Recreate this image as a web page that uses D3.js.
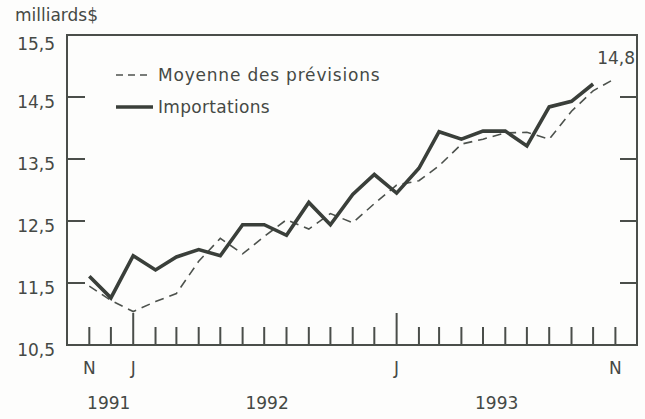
<!DOCTYPE html>
<html>
<head>
<meta charset="utf-8">
<script src="https://cdn.jsdelivr.net/npm/d3@7"></script>
<style>
  body { margin: 0; background: #fdfdfc; }
  text { font-family: "DejaVu Sans", sans-serif; fill: #454945; }
</style>
</head>
<body>
<div id="chart"></div>
<script>
// values, monthly from Nov 1991
const firstMonth = new Date(1991, 10, 1);
const importations = [11.61, 11.26, 11.94, 11.71, 11.92, 12.04, 11.94, 12.44, 12.44, 12.27, 12.8, 12.44,
    12.93, 13.25, 12.95, 13.35, 13.94, 13.82, 13.95, 13.95, 13.71, 14.34, 14.43, 14.71];
const previsions = [11.45, 11.22, 11.04, 11.2, 11.33, 11.85, 12.22, 11.97, 12.25, 12.52, 12.37, 12.62,
    12.47, 12.78, 13.08, 13.15, 13.39, 13.74, 13.82, 13.92, 13.93, 13.82, 14.27, 14.6, 14.8];
const yTicks = [10.5, 11.5, 12.5, 13.5, 14.5, 15.5];
const monthLabels = [[new Date(1991, 10, 1), "N"], [new Date(1992, 0, 1), "J"], [new Date(1993, 0, 1), "J"], [new Date(1993, 10, 1), "N"]];
const yearLabels = [[new Date(1991, 10, 28), "1991"], [new Date(1992, 6, 5), "1992"], [new Date(1993, 4, 20), "1993"]];
const legendNames = ["Moyenne des prévisions", "Importations"];
const endLabel = "14,8";

const width = 645, height = 419;
const margin = {top: 35, right: 8, bottom: 74, left: 67};

const fr = d3.formatLocale({decimal: ",", thousands: " ", grouping: [3], currency: ["", "$"]});
const fmt = fr.format(".1f");

let svg = d3.select("#chart")
    .append("svg")
    .attr("width", width)
    .attr("height", height);

let x = d3.scaleTime()
    .domain([new Date(1991, 9, 1), new Date(1993, 11, 1)])
    .range([margin.left, width - margin.right]);

let y = d3.scaleLinear()
    .domain([10.5, 15.5])
    .range([height - margin.bottom, margin.top]);

let monthDate = i => d3.timeMonth.offset(firstMonth, i);

// frame
svg.append("rect")
    .attr("x", x.range()[0])
    .attr("y", y.range()[1])
    .attr("width", x.range()[1] - x.range()[0])
    .attr("height", y.range()[0] - y.range()[1])
    .attr("fill", "none")
    .attr("stroke", "#4a4e4a")
    .attr("stroke-width", 2);

// y ticks, inside both sides
let inner = yTicks.filter(d => d > 10.5 && d < 15.5);
svg.append("g").selectAll("line").data(inner).enter()
    .append("line")
    .attr("x1", x.range()[0]).attr("x2", x.range()[0] + 18)
    .attr("y1", d => y(d)).attr("y2", d => y(d))
    .attr("stroke", "#4a4e4a").attr("stroke-width", 2);
svg.append("g").selectAll("line").data(inner).enter()
    .append("line")
    .attr("x1", x.range()[1]).attr("x2", x.range()[1] - 17)
    .attr("y1", d => y(d)).attr("y2", d => y(d))
    .attr("stroke", "#4a4e4a").attr("stroke-width", 2);

svg.append("g").selectAll("text").data(yTicks).enter()
    .append("text")
    .attr("x", 55)
    .attr("y", d => y(d) + (d == 15.5 ? 15 : 11))
    .style("text-anchor", "end")
    .style("font-size", "17px")
    .text(d => fmt(d));

svg.append("text")
    .attr("x", 15)
    .attr("y", 21)
    .style("font-size", "17px")
    .text("milliards$");

// month ticks on the bottom
let months = d3.timeMonth.range(firstMonth, new Date(1993, 10, 2));
svg.append("g").selectAll("line").data(months).enter()
    .append("line")
    .attr("x1", d => x(d)).attr("x2", d => x(d))
    .attr("y1", y.range()[0])
    .attr("y2", d => y.range()[0] - (d.getMonth() == 0 ? 32 : 18))
    .attr("stroke", "#4a4e4a").attr("stroke-width", 2);

svg.append("g").selectAll("text").data(monthLabels).enter()
    .append("text")
    .attr("x", d => x(d[0]))
    .attr("y", 374)
    .style("text-anchor", "middle")
    .style("font-size", "17px")
    .text(d => d[1]);

svg.append("g").selectAll("text").data(yearLabels).enter()
    .append("text")
    .attr("x", d => x(d[0]))
    .attr("y", 409)
    .style("text-anchor", "middle")
    .style("font-size", "17px")
    .text(d => d[1]);

// lines
let line = d3.line()
    .x((d, i) => x(monthDate(i)))
    .y(d => y(d));

svg.append("path")
    .datum(previsions)
    .attr("d", line)
    .attr("fill", "none")
    .attr("stroke", "#4d524d")
    .attr("stroke-width", 1.6)
    .attr("stroke-dasharray", "9,6");

svg.append("path")
    .datum(importations)
    .attr("d", line)
    .attr("fill", "none")
    .attr("stroke", "#3a3f3a")
    .attr("stroke-width", 3.6)
    .attr("stroke-linejoin", "miter");

svg.append("text")
    .attr("x", 635)
    .attr("y", 64)
    .style("text-anchor", "end")
    .style("font-size", "17px")
    .text(endLabel);

// legend
let legend = svg.append("g");
legend.append("line")
    .attr("x1", 116).attr("x2", 152).attr("y1", 75).attr("y2", 75)
    .attr("stroke", "#4d524d").attr("stroke-width", 1.6)
    .attr("stroke-dasharray", "7,5");
legend.append("line")
    .attr("x1", 116).attr("x2", 153).attr("y1", 107).attr("y2", 107)
    .attr("stroke", "#3a3f3a").attr("stroke-width", 3.6);
legend.selectAll("text").data(legendNames).enter()
    .append("text")
    .attr("x", 158)
    .attr("y", (d, i) => 81 + i * 32)
    .style("font-size", "17px")
    .style("letter-spacing", (d, i) => i == 0 ? "0.8px" : "0.3px")
    .text(d => d);
</script>
</body>
</html>
